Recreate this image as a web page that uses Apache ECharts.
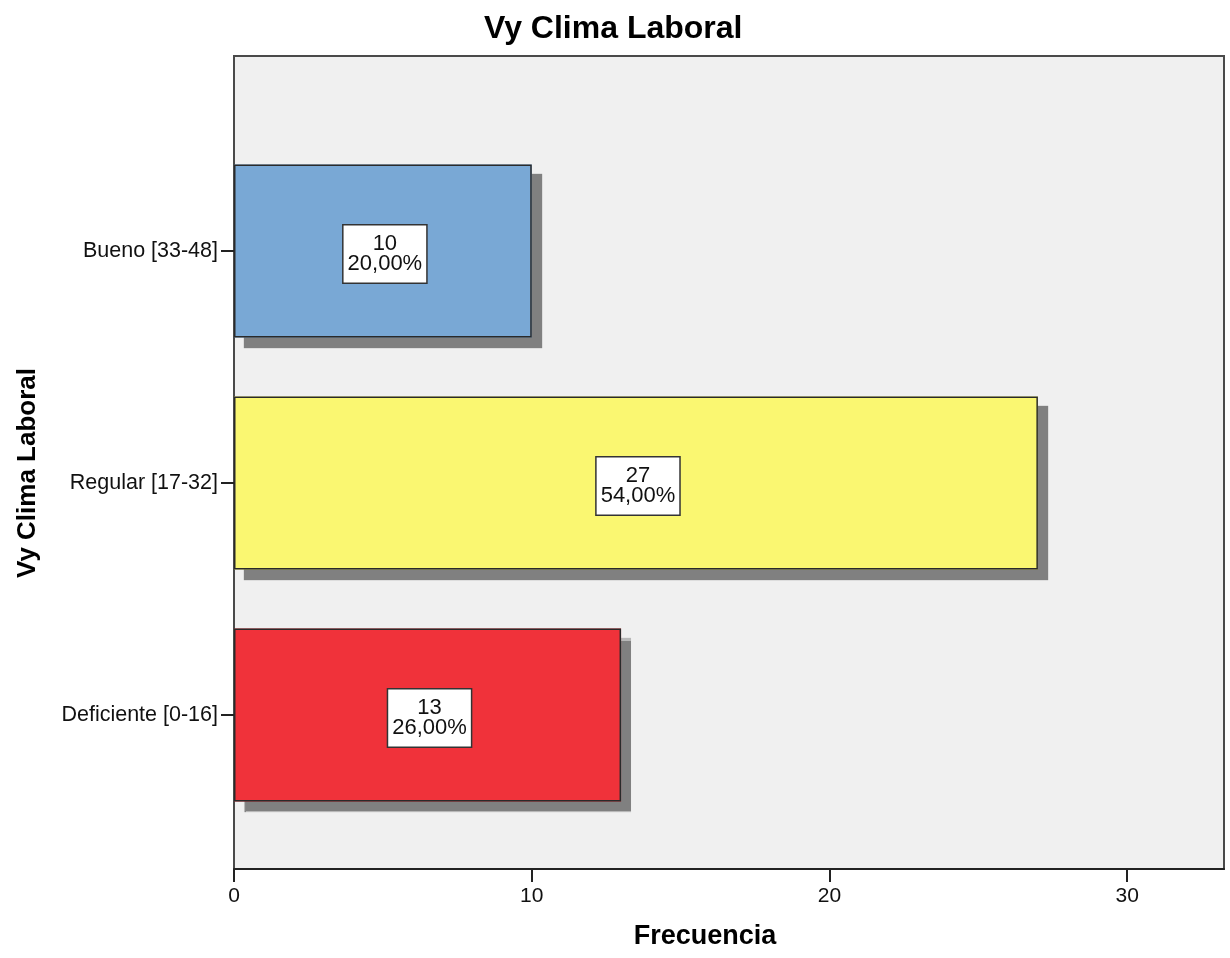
<!DOCTYPE html>
<html>
<head>
<meta charset="utf-8">
<script src="https://cdn.jsdelivr.net/npm/echarts@6/dist/echarts.min.js"></script>
<style>
  html, body { margin: 0; padding: 0; background: #ffffff; }
  #chart { width: 1230px; height: 958px; }
</style>
</head>
<body>
<div id="chart"></div>
<script>
// Categories listed bottom-to-top (category y axis starts at the bottom)
const categories = ['Deficiente [0-16]', 'Regular [17-32]', 'Bueno [33-48]'];
const counts = [13, 27, 10];
const barColors = ['#F0323A', '#FAF771', '#79A8D5'];
const xTicks = [0, 10, 20, 30];

const total = counts.reduce((a, b) => a + b, 0);
const pctText = v => (v / total * 100).toFixed(2).replace('.', ',') + '%';

const FONT = '"Liberation Sans", Arial, sans-serif';

const chart = echarts.init(document.getElementById('chart'), null, { renderer: 'canvas' });

chart.setOption({
  backgroundColor: '#ffffff',
  animation: false,
  title: {
    text: 'Vy Clima Laboral',
    left: 479,
    top: 8,
    textStyle: { fontFamily: FONT, fontSize: 32, fontWeight: 'bold', color: '#000' }
  },
  grid: [
    // frame of the plot area
    { left: 234, right: 6, top: 56, bottom: 89, show: true,
      backgroundColor: '#F0F0F0', borderColor: '#4a4a4a', borderWidth: 2 },
    // band area holding the bars
    { left: 234, right: 6, top: 135, bottom: 127 }
  ],
  xAxis: [
    {
      gridIndex: 0, type: 'value', min: 0, max: 33.25, interval: 10,
      name: 'Frecuencia', nameLocation: 'middle', nameGap: 54,
      nameTextStyle: { fontFamily: FONT, fontSize: 27, fontWeight: 'bold', color: '#000', padding: [0, 48, 0, 0] },
      axisLine: { show: true, lineStyle: { color: '#222', width: 2 } },
      axisTick: { show: true, length: 13, inside: false, customValues: xTicks, lineStyle: { color: '#222', width: 2 } },
      axisLabel: { customValues: xTicks, margin: 17, fontFamily: FONT, fontSize: 21, color: '#111' },
      splitLine: { show: false }
    },
    {
      gridIndex: 1, type: 'value', min: 0, max: 33.25, show: false, splitLine: { show: false }
    }
  ],
  yAxis: [
    { gridIndex: 0, type: 'value', show: false, splitLine: { show: false } },
    {
      gridIndex: 1, type: 'category', data: categories,
      name: 'Vy Clima Laboral', nameLocation: 'middle', nameGap: 193, nameRotate: 90,
      nameTextStyle: { fontFamily: FONT, fontSize: 26, fontWeight: 'bold', color: '#000', padding: [0, 0, 0, 20] },
      axisLine: { show: false },
      axisTick: { show: true, alignWithLabel: true, length: 13, lineStyle: { color: '#222', width: 2 } },
      axisLabel: { margin: 16, fontFamily: FONT, fontSize: 21.5, color: '#111' },
      splitLine: { show: false }
    }
  ],
  series: [
    {
      // filled bars casting the drop shadow
      type: 'bar',
      xAxisIndex: 1,
      yAxisIndex: 1,
      barCategoryGap: '25.4%',
      barGap: '-100%',
      data: counts.map((v, i) => ({ value: v, itemStyle: { color: barColors[i] } })),
      itemStyle: {
        borderWidth: 0,
        shadowColor: 'rgba(128,128,128,1)',
        shadowOffsetX: 10,
        shadowOffsetY: 10,
        shadowBlur: 1
      },
      z: 2
    },
    {
      // outlines and value labels on top
      type: 'bar',
      xAxisIndex: 1,
      yAxisIndex: 1,
      barCategoryGap: '25.4%',
      barGap: '-100%',
      data: counts,
      itemStyle: {
        color: 'rgba(0,0,0,0)',
        borderColor: '#2a2a2a',
        borderWidth: 1.5
      },
      label: {
        show: true,
        position: 'inside',
        formatter: p => p.value + '\n' + pctText(p.value),
        fontFamily: FONT,
        fontSize: 22,
        lineHeight: 20,
        color: '#111',
        align: 'center',
        backgroundColor: '#ffffff',
        borderColor: '#333',
        borderWidth: 1.5,
        padding: [9, 4, 8, 4],
        offset: [2, 3]
      },
      z: 3
    }
  ]
});
</script>
</body>
</html>
